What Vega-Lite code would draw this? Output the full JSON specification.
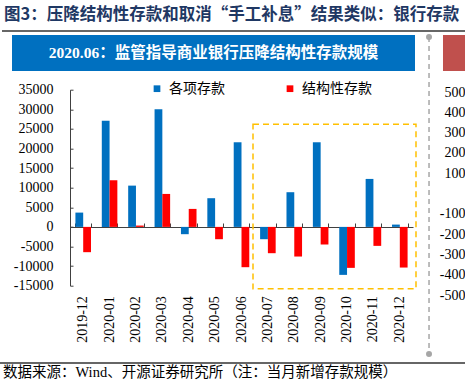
{
  "$schema": "https://vega.github.io/schema/vega-lite/v6.json",
  "background": "white",
  "autosize": {"type": "none"},
  "padding": {"left": 70, "top": 89.7, "right": 52, "bottom": 103.3},
  "width": 343,
  "height": 196,
  "config": {
    "view": {"stroke": null},
    "font": "Liberation Serif",
    "axis": {"labelFont": "Liberation Serif", "labelColor": "#000000", "labelFontSize": 14, "grid": false, "title": null, "labelOverlap": false}
  },
  "datasets": {
    "deposits": [
      {"month": "2019-12", "series": "各项存款", "value": 3650},
      {"month": "2020-01", "series": "各项存款", "value": 27100},
      {"month": "2020-02", "series": "各项存款", "value": 10530},
      {"month": "2020-03", "series": "各项存款", "value": 30000},
      {"month": "2020-04", "series": "各项存款", "value": -1860},
      {"month": "2020-05", "series": "各项存款", "value": 7320},
      {"month": "2020-06", "series": "各项存款", "value": 21590},
      {"month": "2020-07", "series": "各项存款", "value": -3140},
      {"month": "2020-08", "series": "各项存款", "value": 8850},
      {"month": "2020-09", "series": "各项存款", "value": 21590},
      {"month": "2020-10", "series": "各项存款", "value": -12240},
      {"month": "2020-11", "series": "各项存款", "value": 12240},
      {"month": "2020-12", "series": "各项存款", "value": 590},
      {"month": "2019-12", "series": "结构性存款", "value": -6450},
      {"month": "2020-01", "series": "结构性存款", "value": 11900},
      {"month": "2020-02", "series": "结构性存款", "value": 340},
      {"month": "2020-03", "series": "结构性存款", "value": 8410},
      {"month": "2020-04", "series": "结构性存款", "value": 4590},
      {"month": "2020-05", "series": "结构性存款", "value": -3140},
      {"month": "2020-06", "series": "结构性存款", "value": -10280},
      {"month": "2020-07", "series": "结构性存款", "value": -6710},
      {"month": "2020-08", "series": "结构性存款", "value": -7560},
      {"month": "2020-09", "series": "结构性存款", "value": -4500},
      {"month": "2020-10", "series": "结构性存款", "value": -10450},
      {"month": "2020-11", "series": "结构性存款", "value": -4840},
      {"month": "2020-12", "series": "结构性存款", "value": -10370}
    ]
  },
  "resolve": {"scale": {"y": "independent"}},
  "layer": [
    {
      "resolve": {"axis": {"x": "independent", "y": "independent"}},
      "layer": [
        {
          "data": {"values": [{"label": "图3：压降结构性存款和取消“手工补息”结果类似：银行存款"}]},
          "mark": {"type": "text", "align": "left", "baseline": "middle", "font": "Noto Sans CJK SC", "fontSize": 16.5, "fontWeight": "bold", "color": "#1F3864"},
          "encoding": {
            "x": {"datum": "2019-12", "type": "ordinal", "bandPosition": -4.587, "axis": null},
            "y": {"datum": 54183, "type": "quantitative", "axis": null},
            "text": {"field": "label"}
          }
        },
        {
          "data": {"values": [{}]},
          "mark": {"type": "rule", "color": "#333333", "strokeWidth": 1.3},
          "encoding": {
            "x": {"datum": "2019-12", "type": "ordinal", "bandPosition": -4.716, "axis": null},
            "x2": {"datum": "2020-12", "bandPosition": 4.689},
            "y": {"datum": 49974, "type": "quantitative", "axis": null}
          }
        },
        {
          "data": {"values": [{}]},
          "mark": {"type": "rect", "color": "#0070C0"},
          "encoding": {
            "x": {"datum": "2019-12", "type": "ordinal", "bandPosition": -4.073, "axis": null},
            "x2": {"datum": "2020-12", "bandPosition": 1.476},
            "y": {"datum": 48954, "type": "quantitative", "axis": null},
            "y2": {"datum": 39770}
          }
        },
        {
          "data": {"values": [{"label": "2020.06：监管指导商业银行压降结构性存款规模"}]},
          "mark": {"type": "text", "align": "center", "baseline": "middle", "font": "Liberation Serif, Noto Sans CJK SC", "fontSize": 15.5, "fontWeight": "bold", "color": "#FFFFFF"},
          "encoding": {
            "x": {"datum": "2020-05", "type": "ordinal", "bandPosition": 0.396, "axis": null},
            "y": {"datum": 44362, "type": "quantitative", "axis": null},
            "text": {"field": "label"}
          }
        },
        {
          "data": {"values": [{}]},
          "mark": {"type": "rect", "color": "#C0504D"},
          "encoding": {
            "x": {"datum": "2020-12", "type": "ordinal", "bandPosition": 3.274, "axis": null},
            "x2": {"datum": "2020-12", "bandPosition": 5.33},
            "y": {"datum": 48954, "type": "quantitative", "axis": null},
            "y2": {"datum": 39770}
          }
        },
        {
          "data": {"values": [{}]},
          "mark": {"type": "rule", "color": "#A6A6A6", "strokeWidth": 1.5, "strokeDash": [5, 4]},
          "encoding": {
            "x": {"datum": "2020-12", "type": "ordinal", "bandPosition": 2.377, "axis": null},
            "y": {"datum": 48443, "type": "quantitative", "axis": null},
            "y2": {"datum": -32423}
          }
        },
        {
          "data": {"values": [{}]},
          "mark": {"type": "point", "filled": true, "color": "#A6A6A6", "size": 36, "opacity": 1},
          "encoding": {
            "x": {"datum": "2020-12", "type": "ordinal", "bandPosition": 2.377, "axis": null},
            "y": {"datum": 48443, "type": "quantitative", "axis": null}
          }
        },
        {
          "data": {"values": [{}]},
          "mark": {"type": "point", "filled": true, "color": "#A6A6A6", "size": 36, "opacity": 1},
          "encoding": {
            "x": {"datum": "2020-12", "type": "ordinal", "bandPosition": 2.377, "axis": null},
            "y": {"datum": -32423, "type": "quantitative", "axis": null}
          }
        },
        {
          "data": {"values": [{}]},
          "mark": {"type": "rect", "filled": false, "color": "#FFC000", "strokeDash": [6, 4], "strokeWidth": 1.5},
          "encoding": {
            "x": {"datum": "2020-07", "type": "ordinal", "bandPosition": -0.456, "axis": null},
            "x2": {"datum": "2020-12", "bandPosition": 1.54},
            "y": {"datum": 26200, "type": "quantitative", "axis": null},
            "y2": {"datum": -15800}
          }
        },
        {
          "data": {"name": "deposits"},
          "mark": {"type": "bar"},
          "encoding": {
            "x": {"field": "month", "type": "ordinal",
                  "scale": {"type": "band", "paddingInner": 0.41, "paddingOuter": 0.205},
                  "axis": {"orient": "bottom", "domain": false, "ticks": false, "labelAngle": -90, "labelPadding": 10, "labelAlign": "right", "labelBaseline": "middle", "title": null}},
            "xOffset": {"field": "series", "sort": ["各项存款", "结构性存款"], "scale": {"paddingInner": 0, "paddingOuter": 0}},
            "y": {"field": "value", "type": "quantitative",
                  "scale": {"domain": [-15000, 35000], "nice": false},
                  "axis": {"orient": "left", "values": [-15000, -10000, -5000, 0, 5000, 10000, 15000, 20000, 25000, 30000, 35000],
                           "domain": true, "domainColor": "#404040", "ticks": false, "labelPadding": 17,
                           "labelExpr": "(datum.value < 0 ? '-' : '') + abs(datum.value)", "title": null}},
            "color": {"field": "series", "type": "nominal",
                      "scale": {"domain": ["各项存款", "结构性存款"], "range": ["#0070C0", "#FF0000"]},
                      "legend": {"title": null, "orient": "none", "legendX": 80, "legendY": -8, "direction": "horizontal",
                                 "symbolType": "square", "symbolSize": 45, "labelFont": "Noto Sans CJK SC", "labelFontSize": 14,
                                 "labelOffset": 5, "columnPadding": 58, "padding": 0, "symbolStrokeWidth": 0}}
          }
        },
        {
          "data": {"name": "deposits"},
          "mark": {"type": "point", "opacity": 0, "size": 0},
          "encoding": {
            "x": {"field": "month", "type": "ordinal",
                  "axis": {"orient": "bottom", "offset": -58.7, "labels": false, "domain": true, "domainColor": "#404040", "ticks": true, "tickBand": "extent", "tickSize": -4, "tickColor": "#404040", "title": null}},
            "y": {"datum": 0, "type": "quantitative",
                  "axis": {"orient": "left", "labels": false, "domain": false, "ticks": true, "tickSize": -3, "tickColor": "#404040",
                           "values": [-15000, -10000, -5000, 0, 5000, 10000, 15000, 20000, 25000, 30000, 35000], "title": null}}
          }
        },
        {
          "data": {"values": [{}]},
          "mark": {"type": "rule", "color": "#333333", "strokeWidth": 1.3},
          "encoding": {
            "x": {"datum": "2019-12", "type": "ordinal", "bandPosition": -4.844, "axis": null},
            "x2": {"datum": "2020-12", "bandPosition": 4.689},
            "y": {"datum": -34719, "type": "quantitative", "axis": null}
          }
        },
        {
          "data": {"values": [{"label": "数据来源：Wind、开源证券研究所（注：当月新增存款规模）"}]},
          "mark": {"type": "text", "align": "left", "baseline": "middle", "font": "Liberation Serif, Noto Sans CJK SC", "fontSize": 14.5, "color": "#000000"},
          "encoding": {
            "x": {"datum": "2019-12", "type": "ordinal", "bandPosition": -4.651, "axis": null},
            "y": {"datum": -37270, "type": "quantitative", "axis": null},
            "text": {"field": "label"}
          }
        }
      ]
    },
    {
      "data": {"values": [{}]},
      "mark": {"type": "point", "opacity": 0, "size": 0},
      "encoding": {
        "y": {"datum": 0, "type": "quantitative", "scale": {"domain": [-500, 500], "range": [205.3, 2.3], "nice": false, "zero": false},
              "axis": {"orient": "right", "domain": false, "ticks": false,
                       "values": [500, 400, 300, 200, 100, -100, -200, -300, -400, -500],
                       "labelAlign": "right", "labelPadding": 52,
                       "labelExpr": "(datum.value < 0 ? '-' : '') + abs(datum.value)", "title": null}}
      }
    }
  ]
}
